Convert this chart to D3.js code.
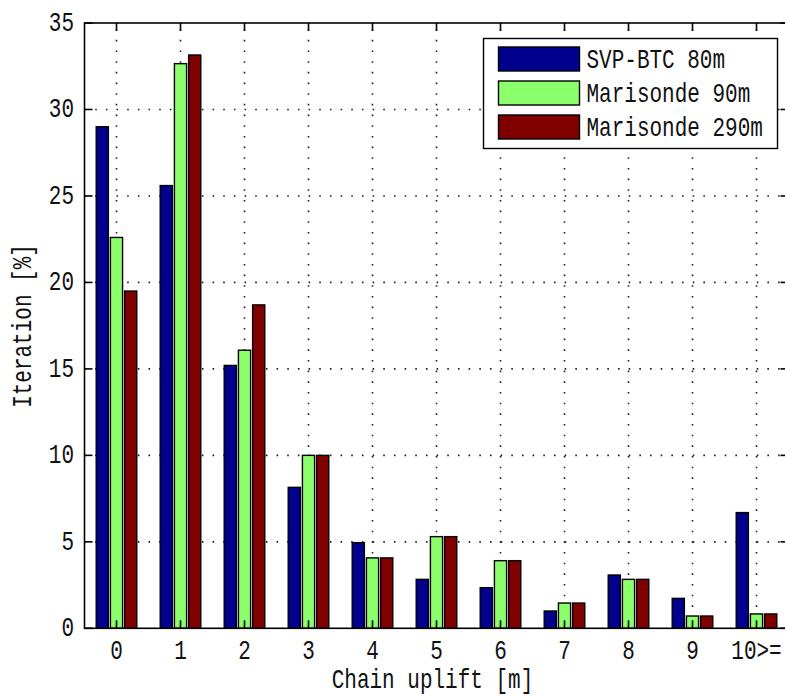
<!DOCTYPE html>
<html>
<head>
<meta charset="utf-8">
<script src="https://cdn.jsdelivr.net/npm/d3@7"></script>
<style>
  html, body { margin: 0; padding: 0; background: #fff; }
  svg { display: block; }
</style>
</head>
<body>
<script>
// Histogram of chain uplift, three sondes
const categories = ["0", "1", "2", "3", "4", "5", "6", "7", "8", "9", "10>="];
const svpBtc80 = [29.0, 25.6, 15.2, 8.15, 4.95, 2.83, 2.35, 1.0, 3.08, 1.73, 6.69];
const marisonde90 = [22.6, 32.65, 16.08, 10.0, 4.07, 5.3, 3.91, 1.46, 2.83, 0.71, 0.83];
const marisonde290 = [19.5, 33.15, 18.7, 10.0, 4.07, 5.3, 3.91, 1.46, 2.83, 0.71, 0.83];
const seriesNames = ["SVP-BTC 80m", "Marisonde 90m", "Marisonde 290m"];
const seriesColors = ["#00008f", "#8cff6c", "#800000"];
const yTicks = [0, 5, 10, 15, 20, 25, 30, 35];
const xTitle = "Chain uplift [m]";
const yTitle = "Iteration [%]";

const W = 785, H = 697;
const pLeft = 84.5, pRight = 788.5, pTop = 23, pBottom = 628.3;
const FONT = "'Liberation Mono', 'DejaVu Sans Mono', monospace";
const FS = 28, SX = 0.75;

const svg = d3.select("body").append("svg")
  .attr("width", W).attr("height", H)
  .attr("viewBox", `0 0 ${W} ${H}`);

const x = d3.scaleLinear().domain([-0.5, categories.length - 0.5]).range([pLeft, pRight]);
const y = d3.scaleLinear().domain([0, 35]).range([pBottom, pTop]);

// narrow monospace text helper
function label(g, tx, ty, str, anchor, rot) {
  return g.append("text")
    .attr("transform", `translate(${tx},${ty})${rot ? ` rotate(${rot})` : ""} scale(${SX},1)`)
    .attr("text-anchor", anchor)
    .attr("dominant-baseline", "central")
    .attr("font-family", FONT)
    .attr("font-size", FS)
    .attr("fill", "#111")
    .text(str);
}

// dotted grid beneath the bars
const grid = svg.append("g").attr("stroke", "#222").attr("stroke-width", 1.6)
  .attr("stroke-dasharray", "1.6 9.07").attr("stroke-linecap", "butt");
grid.selectAll("line.v").data(categories.map((c, i) => i)).join("line")
  .attr("x1", d => x(d)).attr("x2", d => x(d))
  .attr("y1", pBottom).attr("y2", pTop);
grid.selectAll("line.h").data(yTicks.slice(1, -1)).join("line")
  .attr("x1", pLeft).attr("x2", pRight)
  .attr("y1", d => y(d)).attr("y2", d => y(d));

// grouped bars
const series = [svpBtc80, marisonde90, marisonde290];
const offset = 0.222, barW = 0.19;
const bars = svg.append("g");
series.forEach((vals, s) => {
  bars.append("g").selectAll("rect").data(vals).join("rect")
    .attr("x", (d, i) => x(i + (s - 1) * offset - barW / 2))
    .attr("width", x(barW) - x(0))
    .attr("y", d => y(d))
    .attr("height", d => y(0) - y(d))
    .attr("fill", seriesColors[s])
    .attr("stroke", "#000")
    .attr("stroke-width", 1.4);
});

// axes box and inward ticks
const axes = svg.append("g").attr("stroke", "#000").attr("stroke-width", 1.6).attr("fill", "none");
axes.append("rect").attr("x", pLeft).attr("y", pTop)
  .attr("width", pRight - pLeft).attr("height", pBottom - pTop);
const tickLen = 8;
categories.forEach((c, i) => {
  axes.append("line").attr("x1", x(i)).attr("x2", x(i)).attr("y1", pBottom).attr("y2", pBottom - tickLen);
  axes.append("line").attr("x1", x(i)).attr("x2", x(i)).attr("y1", pTop).attr("y2", pTop + tickLen);
});
yTicks.forEach(t => {
  axes.append("line").attr("x1", pLeft).attr("x2", pLeft + tickLen).attr("y1", y(t)).attr("y2", y(t));
  axes.append("line").attr("x1", pRight).attr("x2", pRight - tickLen).attr("y1", y(t)).attr("y2", y(t));
});

// tick labels
const txt = svg.append("g");
categories.forEach((c, i) => label(txt, x(i), 651, c, "middle"));
yTicks.forEach(t => label(txt, 74, y(t), String(t), "end"));

// axis titles
label(txt, 432.5, 680.5, xTitle, "middle");
label(txt, 23, 326, yTitle, "middle", -90);

// legend
const lg = svg.append("g");
lg.append("rect").attr("x", 483.5).attr("y", 38.5).attr("width", 294).attr("height", 110)
  .attr("fill", "#fff").attr("stroke", "#000").attr("stroke-width", 1.4);
seriesNames.forEach((name, s) => {
  const cy = 59 + s * 34;
  lg.append("rect").attr("x", 498.5).attr("y", cy - 12).attr("width", 81).attr("height", 24)
    .attr("fill", seriesColors[s]).attr("stroke", "#000").attr("stroke-width", 1.4);
  label(lg, 586.5, cy + 1, name, "start");
});
</script>
</body>
</html>
